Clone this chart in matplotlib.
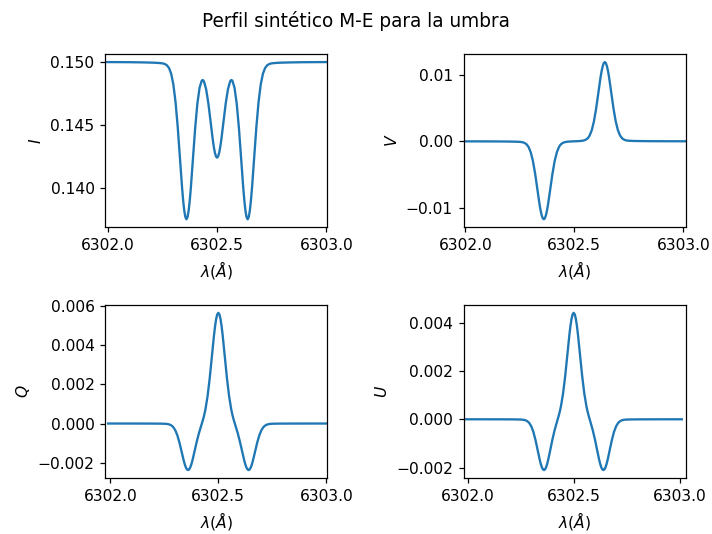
import matplotlib
matplotlib.use('Agg')
import matplotlib.pyplot as plt
from matplotlib.ticker import FormatStrFormatter

# wavelength sampling (Angstrom)
wav = [6301.99, 6302.05, 6302.10, 6302.15, 6302.20, 6302.23, 6302.25, 6302.26, 6302.27, 6302.28,
       6302.29, 6302.30, 6302.31, 6302.32, 6302.33, 6302.34, 6302.345, 6302.35, 6302.355, 6302.36,
       6302.365, 6302.37, 6302.375, 6302.38, 6302.39, 6302.40, 6302.41, 6302.42, 6302.43, 6302.435,
       6302.44, 6302.45, 6302.46, 6302.47, 6302.48, 6302.485, 6302.49, 6302.495, 6302.50, 6302.505,
       6302.51, 6302.515, 6302.52, 6302.53, 6302.54, 6302.55, 6302.56, 6302.565, 6302.57, 6302.58,
       6302.59, 6302.60, 6302.61, 6302.62, 6302.625, 6302.63, 6302.635, 6302.64, 6302.645, 6302.65,
       6302.655, 6302.66, 6302.67, 6302.68, 6302.69, 6302.70, 6302.71, 6302.72, 6302.73, 6302.74,
       6302.75, 6302.77, 6302.80, 6302.85, 6302.90, 6302.95, 6303.01]

stokes_I = [0.149985, 0.149980, 0.149974, 0.149962, 0.149942, 0.149918, 0.149883, 0.149839, 0.149740, 0.149521,
            0.149067, 0.148224, 0.146838, 0.144862, 0.142457, 0.140051, 0.139033, 0.138239, 0.137735, 0.137560,
            0.137729, 0.138228, 0.139015, 0.140027, 0.142415, 0.144790, 0.146703, 0.147953, 0.148520, 0.148566,
            0.148464, 0.147845, 0.146752, 0.145345, 0.143915, 0.143306, 0.142834, 0.142533, 0.142430, 0.142533,
            0.142834, 0.143306, 0.143915, 0.145345, 0.146752, 0.147845, 0.148464, 0.148566, 0.148520, 0.147953,
            0.146703, 0.144790, 0.142415, 0.140027, 0.139015, 0.138228, 0.137729, 0.137560, 0.137735, 0.138239,
            0.139033, 0.140051, 0.142457, 0.144862, 0.146838, 0.148224, 0.149067, 0.149521, 0.149740, 0.149839,
            0.149883, 0.149918, 0.149942, 0.149962, 0.149974, 0.149980, 0.149985]

stokes_V = [-0.0000055, -0.0000084, -0.0000127, -0.0000201, -0.0000355, -0.0000538, -0.0000847, -0.000124, -0.000216, -0.00042,
            -0.000846, -0.001639, -0.002943, -0.004805, -0.00707, -0.009335, -0.010294, -0.01104, -0.011513, -0.011675,
            -0.011513, -0.011038, -0.010291, -0.009331, -0.007064, -0.004796, -0.002933, -0.001626, -0.000831, -0.00058,
            -0.000401, -0.000193, -0.000098, -0.0000546, -0.0000302, -0.0000215, -0.0000133, -0.000005, 0.0000009, 0.0000067,
            0.000015, 0.0000233, 0.0000321, 0.0000567, 0.000101, 0.000198, 0.000409, 0.00059, 0.000845, 0.001653,
            0.002981, 0.004875, 0.007179, 0.009484, 0.010459, 0.011218, 0.0117, 0.011866, 0.011701, 0.01122,
            0.010462, 0.009487, 0.007185, 0.004884, 0.002992, 0.001666, 0.000861, 0.000427, 0.00022, 0.000126,
            0.0000863, 0.0000549, 0.0000363, 0.0000206, 0.000013, 0.0000087, 0.0000057]

stokes_Q = [-0.0000001, -0.0000003, -0.0000008, -0.0000016, -0.0000037, -0.0000063, -0.0000117, -0.0000194, -0.0000377, -0.0000789,
            -0.0001656, -0.0003277, -0.0005947, -0.000976, -0.00144, -0.001904, -0.0021, -0.002252, -0.002348, -0.00238,
            -0.002346, -0.002246, -0.00209, -0.00189, -0.001415, -0.00093, -0.0005025, -0.0001353, 0.0002349, 0.000452,
            0.0007079, 0.0013834, 0.002307, 0.0034156, 0.0045204, 0.004987, 0.0053508, 0.005581, 0.00566, 0.005581,
            0.0053508, 0.004987, 0.0045204, 0.0034156, 0.002307, 0.0013834, 0.0007079, 0.000452, 0.0002349, -0.0001353,
            -0.0005025, -0.00093, -0.001415, -0.00189, -0.00209, -0.002246, -0.002346, -0.00238, -0.002348, -0.002252,
            -0.0021, -0.001904, -0.00144, -0.000976, -0.0005947, -0.0003277, -0.0001656, -0.0000789, -0.0000377, -0.0000194,
            -0.0000117, -0.0000063, -0.0000037, -0.0000016, -0.0000008, -0.0000003, -0.0000001]

stokes_U = [-0.0000004, -0.0000006, -0.000001, -0.0000019, -0.0000039, -0.0000064, -0.0000113, -0.0000181, -0.0000342, -0.0000706,
            -0.0001472, -0.0002901, -0.0005255, -0.0008616, -0.0012705, -0.0016796, -0.001852, -0.0019866, -0.002071, -0.0021,
            -0.002069, -0.0019817, -0.001844, -0.0016686, -0.0012508, -0.0008258, -0.000454, -0.0001407, 0.000164, 0.000338,
            0.0005408, 0.0010706, 0.0017906, 0.0026535, 0.0035132, 0.003876, 0.0041591, 0.004338, 0.0044, 0.004338,
            0.0041591, 0.003876, 0.0035132, 0.0026535, 0.0017906, 0.0010706, 0.0005408, 0.000338, 0.000164, -0.0001407,
            -0.000454, -0.0008258, -0.0012508, -0.0016686, -0.001844, -0.0019817, -0.002069, -0.0021, -0.002071, -0.0019866,
            -0.001852, -0.0016796, -0.0012705, -0.0008616, -0.0005255, -0.0002901, -0.0001472, -0.0000706, -0.0000342, -0.0000181,
            -0.0000113, -0.0000064, -0.0000039, -0.0000019, -0.000001, -0.0000006, -0.0000004]

xticks = [6302.0, 6302.5, 6303.0]

fig, axs = plt.subplots(2, 2, figsize=(6.4, 4.8), dpi=111.25)
fig.suptitle('Perfil sintético M-E para la umbra')

panels = [(axs[0, 0], stokes_I, '$I$', (6301.989, 6303.005)),
          (axs[0, 1], stokes_V, '$V$', (6301.992, 6303.011)),
          (axs[1, 0], stokes_Q, '$Q$', (6301.977, 6303.005)),
          (axs[1, 1], stokes_U, '$U$', (6301.981, 6303.028))]

for ax, prof, name, lims in panels:
    ax.plot(wav, prof)
    ax.set_xlim(lims)
    ax.set_xticks(xticks)
    ax.xaxis.set_major_formatter(FormatStrFormatter('%.1f'))
    ax.set_xlabel(r'$\lambda(\AA)$')
    ax.set_ylabel(name)

plt.subplots_adjust(left=0.148, right=0.963, bottom=0.105, top=0.8985, wspace=0.6135, hspace=0.45)
plt.savefig('out.png')
